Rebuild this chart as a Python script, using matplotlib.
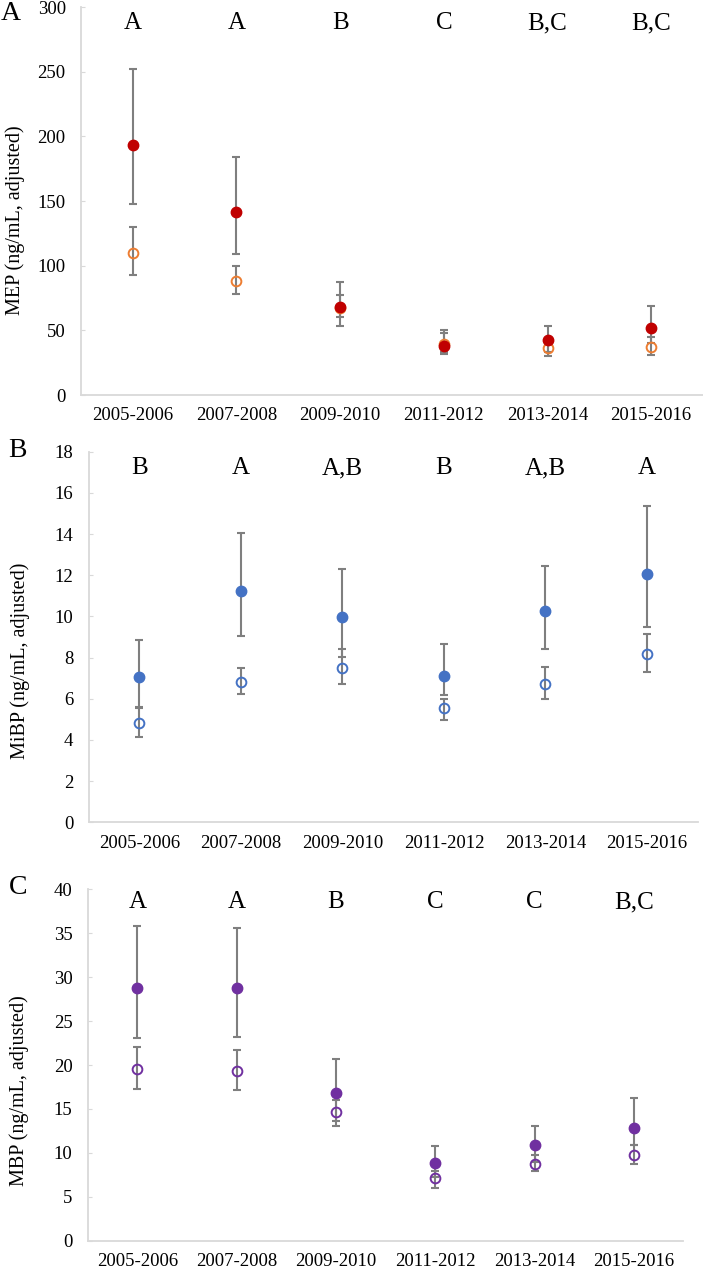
import numpy as np
import matplotlib
matplotlib.use("Agg")
import matplotlib.pyplot as plt

plt.rcParams['font.family'] = ['Liberation Serif', 'DejaVu Serif']

W, H = 703, 1270

periods = ['2005-2006', '2007-2008', '2009-2010', '2011-2012', '2013-2014', '2015-2016']

# panel A - MEP
mep_letters = ['A', 'A', 'B', 'C', 'B,C', 'B,C']
mep_fill = [193, 141.5, 68, 38, 42.5, 51.5]
mep_fill_lo = [148, 109, 53, 31.5, 33, 40]
mep_fill_hi = [252, 184, 87, 50, 53.5, 68.5]
mep_open = [110, 88.5, 67.5, 39.5, 36, 37]
mep_open_lo = [93, 78, 60.5, 33, 30.5, 31]
mep_open_hi = [130, 100, 77, 48, 42, 45]

# panel B - MiBP
mibp_letters = ['B', 'A', 'A,B', 'B', 'A,B', 'A']
mibp_fill = [7.05, 11.25, 9.95, 7.1, 10.25, 12.05]
mibp_fill_lo = [5.6, 9.03, 8.03, 6.17, 8.43, 9.49]
mibp_fill_hi = [8.85, 14.03, 12.3, 8.68, 12.46, 15.35]
mibp_open = [4.8, 6.8, 7.5, 5.54, 6.73, 8.16]
mibp_open_lo = [4.16, 6.21, 6.7, 4.95, 6.0, 7.31]
mibp_open_hi = [5.55, 7.49, 8.43, 5.97, 7.54, 9.13]

# panel C - MBP
mbp_letters = ['A', 'A', 'B', 'C', 'C', 'B,C']
mbp_fill = [28.75, 28.75, 16.8, 8.85, 10.85, 12.85]
mbp_fill_lo = [23.07, 23.2, 13.6, 7.3, 9.0, 10.93]
mbp_fill_hi = [35.8, 35.6, 20.7, 10.8, 13.1, 16.24]
mbp_open = [19.5, 19.3, 14.7, 7.14, 8.77, 9.76]
mbp_open_lo = [17.23, 17.2, 13.1, 6.04, 7.9, 8.77]
mbp_open_hi = [22.05, 21.7, 16.0, 7.9, 9.76, 10.9]

GRID = '#d9d9d9'
ERR = '#7f7f7f'


def px_axes(fig, left, right, top, bottom):
    return fig.add_axes([left / W, 1 - bottom / H, (right - left) / W, (bottom - top) / H])


def panel(ax, fill, flo, fhi, opn, olo, ohi, letters, fill_col, open_col,
          ymax, ystep, letter_y):
    x = np.arange(len(periods))
    fill = np.array(fill); opn = np.array(opn)
    yerr_o = [opn - np.array(olo), np.array(ohi) - opn]
    yerr_f = [fill - np.array(flo), np.array(fhi) - fill]
    ax.errorbar(x, opn, yerr=yerr_o, fmt='none', ecolor=ERR, elinewidth=1.5,
                capsize=2.6, capthick=1.5, zorder=2)
    ax.errorbar(x, fill, yerr=yerr_f, fmt='none', ecolor=ERR, elinewidth=1.5,
                capsize=2.6, capthick=1.5, zorder=2)
    ax.plot(x, opn, 'o', ms=7, mfc='none', mec=open_col, mew=1.4, zorder=3)
    ax.plot(x, fill, 'o', ms=7.5, mfc=fill_col, mec=fill_col, zorder=4)
    for xi, t in zip(x, letters):
        ax.text(xi, letter_y, t, ha='center', va='center', fontsize=18)
    ax.set_xlim(-0.5, len(periods) - 0.5)
    ax.set_ylim(0, ymax)
    ax.set_yticks(np.arange(0, ymax + ystep / 2, ystep))
    ax.set_xticks(x)
    ax.set_xticklabels(periods)
    ax.tick_params(axis='x', length=0, pad=9, labelsize=13.5)
    ax.tick_params(axis='y', direction='in', length=3, color=GRID, pad=11, labelsize=13.5)
    for s in ['top', 'right']:
        ax.spines[s].set_visible(False)
    for s in ['left', 'bottom']:
        ax.spines[s].set_color(GRID)
        ax.spines[s].set_linewidth(1.3)
    ax.spines['bottom'].set_zorder(0)


fig = plt.figure(figsize=(W / 100, H / 100), dpi=100)

axA = px_axes(fig, 81, 703, 7, 395)
panel(axA, mep_fill, mep_fill_lo, mep_fill_hi, mep_open, mep_open_lo, mep_open_hi,
      mep_letters, '#c00000', '#ed7d31', 300, 50, 287.5)
axB = px_axes(fig, 88.7, 697.7, 451.7, 822.3)
panel(axB, mibp_fill, mibp_fill_lo, mibp_fill_hi, mibp_open, mibp_open_lo, mibp_open_hi,
      mibp_letters, '#4472c4', '#4472c4', 18, 2, 17.2)
axC = px_axes(fig, 87.7, 683.5, 889.3, 1240.7)
panel(axC, mbp_fill, mbp_fill_lo, mbp_fill_hi, mbp_open, mbp_open_lo, mbp_open_hi,
      mbp_letters, '#7030a0', '#7030a0', 40, 5, 38.55)

# y labels and panel letters, placed in pixel space
for txt, xp, yp in [('MEP (ng/mL, adjusted)', 15, 220),
                    ('MiBP (ng/mL, adjusted)', 20, 661),
                    ('MBP (ng/mL, adjusted)', 19, 1091)]:
    fig.text(xp / W, 1 - yp / H, txt, rotation=90, ha='center', va='center', fontsize=14.5)
for txt, xp, yp in [('A', 11, 14), ('B', 17, 451), ('C', 18, 888)]:
    fig.text(xp / W, 1 - yp / H, txt, ha='center', va='center', fontsize=20)

fig.savefig('out.png', dpi=100)
